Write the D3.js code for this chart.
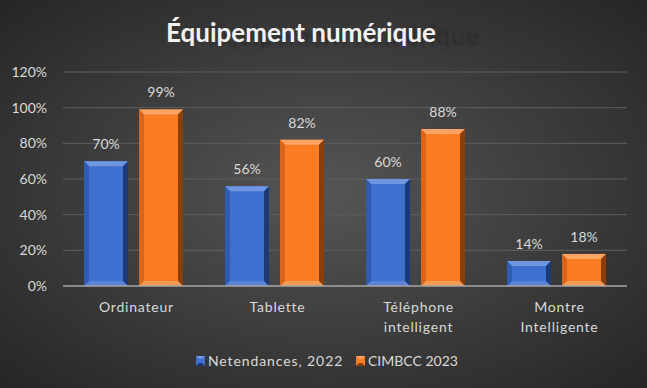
<!DOCTYPE html>
<html>
<head>
<meta charset="utf-8">
<script src="https://cdn.jsdelivr.net/npm/d3@7"></script>
<style>
  body { margin: 0; background: #333; }
  svg { display: block; }
  text { font-family: Lato, "Open Sans", sans-serif; }
</style>
</head>
<body>
<div id="chart"></div>
<script>
const categories = ["Ordinateur", "Tablette", "Téléphone\nintelligent", "Montre\nIntelligente"];
const seriesNames = ["Netendances, 2022", "CIMBCC 2023"];
const netendances = [0.70, 0.56, 0.60, 0.14];
const cimbcc = [0.99, 0.82, 0.88, 0.18];
const yTicks = [0, 0.2, 0.4, 0.6, 0.8, 1.0, 1.2];

const width = 647, height = 388;

const palette = {
    "Netendances, 2022": { face: "#3f6fcf", top: "#6f96e0", bottom: "#5a83d6", left: "#2f5bb0", right: "#1d3a78" },
    "CIMBCC 2023": { face: "#f97b22", top: "#fca465", bottom: "#f59a55", left: "#d8651a", right: "#8a3e0c" }
};

const data = categories.map((c, i) => ({
    category: c,
    values: [
        { key: seriesNames[0], value: netendances[i] },
        { key: seriesNames[1], value: cimbcc[i] }
    ]
}));

const svg = d3.select("#chart").append("svg")
    .attr("width", width)
    .attr("height", height);

const defs = svg.append("defs");
const bgGrad = defs.append("radialGradient").attr("id", "bg")
    .attr("cx", "50%").attr("cy", "50%").attr("r", "70%");
bgGrad.append("stop").attr("offset", "0%").attr("stop-color", "#555555");
bgGrad.append("stop").attr("offset", "100%").attr("stop-color", "#262626");

defs.append("filter").attr("id", "blur")
    .append("feGaussianBlur").attr("stdDeviation", 1.2);

svg.append("rect")
    .attr("width", width)
    .attr("height", height)
    .attr("fill", "url(#bg)");

// title + its odd offset shadow
svg.append("text")
    .attr("x", 344)
    .attr("y", 45)
    .attr("text-anchor", "middle")
    .attr("font-size", 26)
    .attr("font-weight", "bold")
    .attr("fill", "#2e2e2e")
    .attr("filter", "url(#blur)")
    .text("Équipement numérique");

svg.append("text")
    .attr("x", 301)
    .attr("y", 42)
    .attr("text-anchor", "middle")
    .attr("font-size", 26)
    .attr("font-weight", "bold")
    .attr("fill", "#f2f2f2")
    .text("Équipement numérique");

const x = d3.scaleBand()
    .domain(categories)
    .range([63, 627]);

const x1 = d3.scaleBand()
    .domain(seriesNames)
    .range([21, 120])
    .paddingInner(0.2);

const y = d3.scaleLinear()
    .domain([0, 1.2])
    .range([286, 72]);

// grid
svg.append("g")
    .selectAll("line")
    .data(yTicks.filter(d => d > 0))
    .join("line")
    .attr("x1", 63)
    .attr("x2", 627)
    .attr("y1", d => y(d))
    .attr("y2", d => y(d))
    .attr("stroke", "#5e5e5e")
    .attr("stroke-width", 1);

// y labels
svg.append("g")
    .selectAll("text")
    .data(yTicks)
    .join("text")
    .attr("x", 47)
    .attr("y", d => y(d))
    .attr("dy", "0.35em")
    .attr("text-anchor", "end")
    .attr("font-size", 14)
    .attr("fill", "#d9d9d9")
    .text(d3.format(".0%"));

// bars with bevel
const bev = 5;
const groups = svg.append("g")
    .selectAll("g")
    .data(data)
    .join("g")
    .attr("transform", d => `translate(${x(d.category)},0)`);

const bars = groups.selectAll("g.bar")
    .data(d => d.values)
    .join("g")
    .attr("class", "bar");

bars.each(function(d) {
    const g = d3.select(this);
    const c = palette[d.key];
    const x0 = x1(d.key), w = x1.bandwidth();
    const y0 = y(d.value), y1 = y(0);
    const b = Math.min(bev, (y1 - y0) / 3);
    g.append("rect")
        .attr("x", x0).attr("y", y0)
        .attr("width", w).attr("height", y1 - y0)
        .attr("fill", c.face);
    const poly = (pts, fill) => g.append("polygon")
        .attr("points", pts.map(p => p.join(",")).join(" "))
        .attr("fill", fill);
    poly([[x0, y0], [x0 + w, y0], [x0 + w - b, y0 + b], [x0 + b, y0 + b]], c.top);
    poly([[x0, y1], [x0 + w, y1], [x0 + w - b, y1 - b], [x0 + b, y1 - b]], c.bottom);
    poly([[x0, y0], [x0 + b, y0 + b], [x0 + b, y1 - b], [x0, y1]], c.left);
    poly([[x0 + w, y0], [x0 + w - b, y0 + b], [x0 + w - b, y1 - b], [x0 + w, y1]], c.right);
});

// value labels
bars.append("text")
    .attr("x", d => x1(d.key) + x1.bandwidth() / 2)
    .attr("y", d => y(d.value) - 17)
    .attr("dy", "0.35em")
    .attr("text-anchor", "middle")
    .attr("font-size", 14)
    .attr("fill", "#d9d9d9")
    .text(d => d3.format(".0%")(d.value));

// baseline
svg.append("line")
    .attr("x1", 63).attr("x2", 627)
    .attr("y1", y(0)).attr("y2", y(0))
    .attr("stroke", "#a6a6a6")
    .attr("stroke-width", 1.5);

// category labels
svg.append("g")
    .selectAll("text")
    .data(categories)
    .join("text")
    .attr("x", d => x(d) + x.bandwidth() / 2 + 3)
    .attr("y", 307)
    .attr("text-anchor", "middle")
    .attr("font-size", 14)
    .attr("letter-spacing", 0.8)
    .attr("fill", "#d9d9d9")
    .each(function(d) {
        const t = d3.select(this);
        d.split("\n").forEach((line, i) => {
            t.append("tspan")
                .attr("x", x(d) + x.bandwidth() / 2 + 3)
                .attr("dy", i === 0 ? "0.35em" : 20)
                .text(line);
        });
    });

// legend
const legend = svg.append("g").attr("transform", "translate(196,361)");
const legX = [0, 160];
seriesNames.forEach((s, i) => {
    const c = palette[s];
    const lg = legend.append("g").attr("transform", `translate(${legX[i]},0)`);
    lg.append("rect").attr("x", 0).attr("y", -5).attr("width", 9).attr("height", 10).attr("fill", c.face);
    lg.append("polygon").attr("points", "0,-5 9,-5 6,-2 3,-2").attr("fill", c.top);
    lg.append("polygon").attr("points", "0,5 9,5 6,2 3,2").attr("fill", c.right);
    lg.append("text")
        .attr("x", 12)
        .attr("y", 0)
        .attr("dy", "0.35em")
        .attr("font-size", 14)
        .attr("letter-spacing", i === 0 ? 0.9 : 0)
        .attr("fill", "#d9d9d9")
        .text(s);
});
</script>
</body>
</html>
